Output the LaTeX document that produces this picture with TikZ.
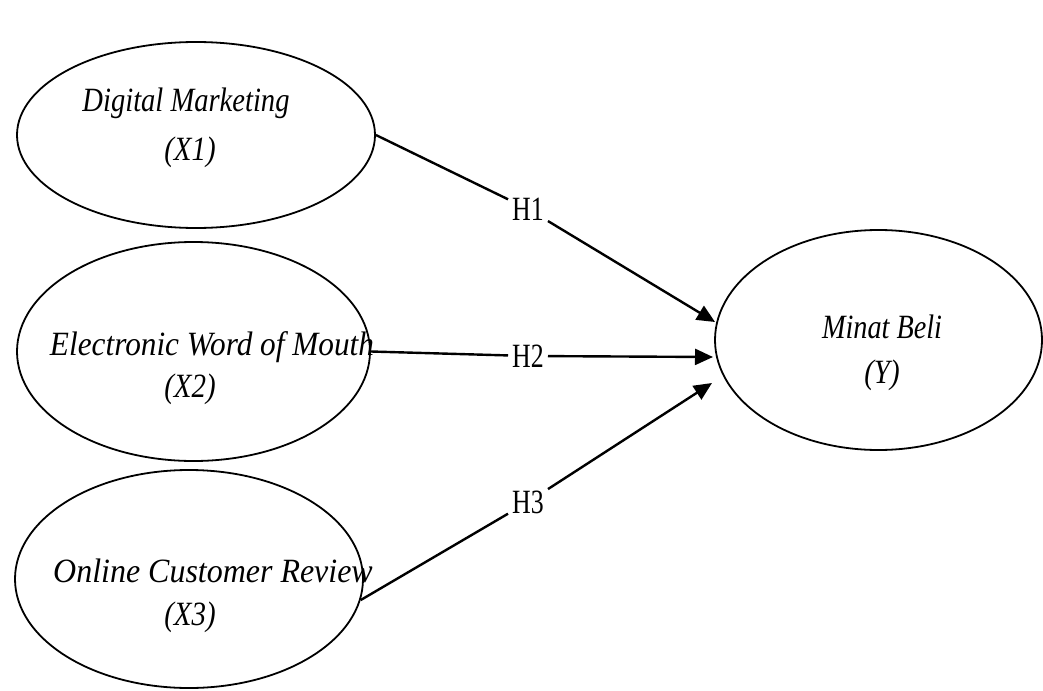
\documentclass[tikz,border=0pt]{standalone}
\usepackage{fontspec}
\setmainfont{Liberation Serif}
\usetikzlibrary{arrows.meta,shapes.geometric}
\begin{document}
\begin{tikzpicture}[x=1pt,y=-1pt,
  latent/.style={ellipse,draw,line width=1.8pt,inner sep=0pt},
  lbl/.style={font=\fontsize{34}{40}\selectfont\itshape,anchor=base,inner sep=0pt},
  hyp/.style={font=\fontsize{34}{40}\selectfont,inner sep=4pt},
  conn/.style={line width=2.4pt,-{Triangle[length=18pt,width=16pt]}}]
\useasboundingbox (0,0) rectangle (1043,690);
% latent variables
\node[latent,minimum width=358pt,minimum height=186pt] (x1) at (196,135) {};
\node[latent,minimum width=353pt,minimum height=219pt] (x2) at (193.5,351.5) {};
\node[latent,minimum width=348pt,minimum height=218pt] (x3) at (189,579) {};
\node[latent,minimum width=327pt,minimum height=220pt] (y) at (878.5,340) {};
% texts
\node[lbl] (x1a) at (186,112) {\scalebox{0.84}[1]{Digital Marketing}};
\node[lbl] (x1b) at (190,160) {\scalebox{0.85}[1]{(X1)}};
\node[lbl] (x2a) at (212,355) {\scalebox{0.92}[1]{Electronic Word of Mouth}};
\node[lbl] (x2b) at (190,397) {\scalebox{0.85}[1]{(X2)}};
\node[lbl] (x3a) at (213,582) {\scalebox{0.94}[1]{Online Customer Review}};
\node[lbl] (x3b) at (190,625) {\scalebox{0.85}[1]{(X3)}};
\node[lbl] (ya) at (882,338) {\scalebox{0.83}[1]{Minat Beli}};
\node[lbl] (yb) at (882,383) {\scalebox{0.85}[1]{(Y)}};
% hypothesis labels
\node[hyp] (h1) at (528,209) {\scalebox{0.76}[1]{H1}};
\node[hyp] (h2) at (528,356) {\scalebox{0.76}[1]{H2}};
\node[hyp] (h3) at (528,502) {\scalebox{0.76}[1]{H3}};
% arrow tips
\coordinate (t1) at (715,322);
\coordinate (t2) at (713,357);
\coordinate (t3) at (712,383);
% connectors
\draw[conn] (x1.east) -- (h1) -- (t1);
\draw[conn] (x2.east) -- (h2) -- (t2);
\draw[conn] (x3.-7) -- (h3) -- (t3);
\end{tikzpicture}
\end{document}
